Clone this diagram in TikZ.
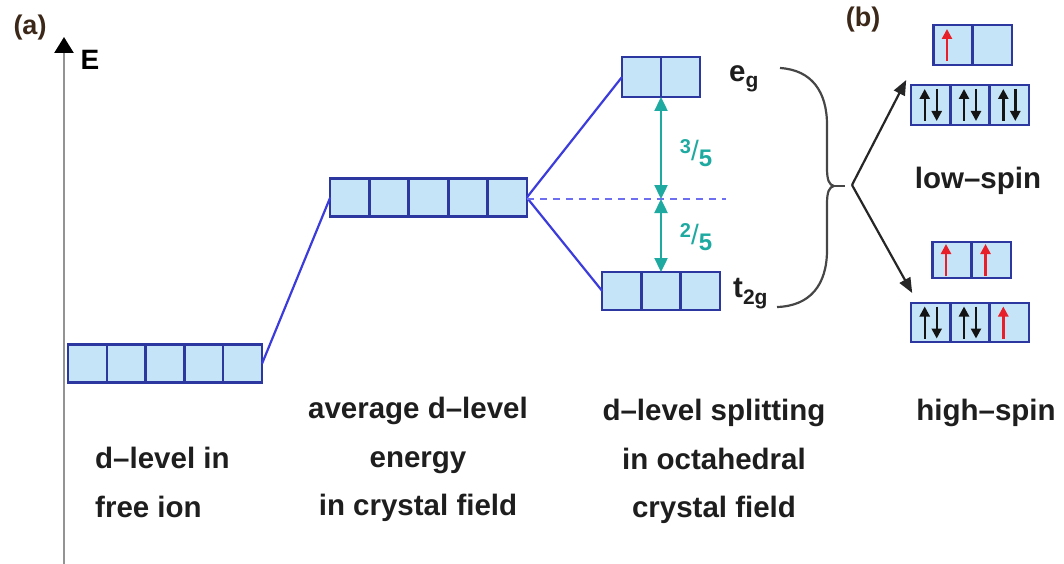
\documentclass[tikz,border=0pt]{standalone}
\usepackage{fontspec}
\setmainfont{Liberation Sans}
\usetikzlibrary{arrows.meta, calc}

\definecolor{cellline}{RGB}{45,55,160}
\definecolor{cellfill}{RGB}{198,228,248}
\definecolor{levelblue}{RGB}{60,60,220}
\definecolor{dashblue}{RGB}{110,110,240}
\definecolor{splitteal}{RGB}{30,170,160}
\definecolor{spinred}{RGB}{232,30,40}
\definecolor{spinblack}{RGB}{20,20,20}
\definecolor{bracegray}{RGB}{70,70,70}
\definecolor{ink}{RGB}{30,30,30}
\definecolor{tagbrown}{RGB}{60,40,25}

% electron arrows inside a cell
\newcommand{\elup}[2][spinblack]{\draw[spin, #1] ($(#2.center)+(-6,16)$) -- ($(#2.center)+(-6,-16)$);}
\newcommand{\eldown}[1]{\draw[spin, spinblack] ($(#1.center)+(6,-16)$) -- ($(#1.center)+(6,16)$);}

\begin{document}
\begin{tikzpicture}[
    x=1pt, y=-1pt,
    cell/.style={rectangle, draw=cellline, fill=cellfill, line width=2.4pt,
                 minimum width=39pt, minimum height=38pt, inner sep=0pt, outer sep=0pt},
    level/.style={draw=levelblue, line width=2.2pt},
    bary/.style={draw=dashblue, line width=2.8pt, dash pattern=on 7pt off 6pt},
    split/.style={draw=splitteal, line width=2.4pt,
                  {Triangle[length=14pt,width=13pt]}-{Triangle[length=14pt,width=13pt]}},
    spin/.style={line width=2.4pt, -{Triangle[length=10pt,width=10pt]}},
    brace/.style={draw=bracegray, line width=2.2pt},
    branch/.style={draw=black!85, line width=2.2pt, -{Triangle[length=15pt,width=12pt]}},
    axis/.style={draw=gray!85, line width=2.6pt, -{Triangle[length=16pt,width=19pt,color=black]}},
    txt/.style={font=\fontsize{29.5}{48.5}\selectfont\bfseries, text=ink, inner sep=0pt},
    tag/.style={font=\fontsize{27}{27}\selectfont\bfseries, text=tagbrown, inner sep=0pt},
    frac/.style={font=\fontsize{24}{24}\selectfont\bfseries, text=splitteal, inner sep=0pt}
]
\useasboundingbox (0,0) rectangle (1064,564);

% energy axis
\coordinate (axbot) at (64,564);
\coordinate (axtop) at (64,37);
\draw[axis] (axbot) -- (axtop);
\node[tag] (taga) at (30,28) {(a)};
\node[font=\fontsize{28}{28}\selectfont\bfseries, text=black, inner sep=0pt] (elbl) at (90,60) {E};

% levels
\foreach \i in {0,...,4} \node[cell] (free\i) at (87.4+38.8*\i, 363.5) {};
\foreach \i in {0,...,4} \node[cell] (avg\i) at (349.7+39.4*\i, 197.5) {};
\foreach \i in {0,1} \node[cell, minimum height=40pt] (eg\i) at (641.5+39*\i, 77) {};
\foreach \i in {0,1,2} \node[cell] (tt\i) at (621.7+39.3*\i, 291) {};

\draw[level] (free4.east) -- (avg0.west);
\draw[level] (avg4.east) -- (eg0.west);
\draw[level] (avg4.east) -- (tt0.west);
\coordinate (baryend) at (726,199);
\coordinate (bary) at (661,199);
\draw[bary] ([yshift=-1.5pt]avg4.east) -- (baryend);
\draw[split] (eg0.south east) -- (bary);
\draw[split] (bary) -- (tt1.north);
\node[frac] (f35) at (696,153) {\raisebox{7pt}{\fontsize{20}{20}\selectfont 3}{\mdseries\fontsize{28}{28}\selectfont/}\raisebox{-6pt}{5}};
\node[frac] (f25) at (696,237) {\raisebox{7pt}{\fontsize{20}{20}\selectfont 2}{\mdseries\fontsize{28}{28}\selectfont/}\raisebox{-6pt}{5}};

\node[txt, anchor=base west] (eglbl) at (729,82) {e\raisebox{-6pt}{\fontsize{21}{21}\selectfont g}};
\node[txt, anchor=base west] (ttlbl) at (733,297) {t\raisebox{-7pt}{\fontsize{21}{21}\selectfont 2g}};

% brace and fork
\coordinate (btip) at (834,186);
\coordinate (fork) at (852,185);
\draw[brace] (780,68) .. controls (812,70) and (827,92) .. (827,125) -- (827,168)
    .. controls (827,180) and (829,185) .. (btip)
    .. controls (829,187) and (827,192) .. (827,204) -- (827,250)
    .. controls (827,285) and (810,306) .. (777,307);
\draw[brace] (btip) -- (845,186);

% low-spin and high-spin fillings
\node[tag] (tagb) at (863,20) {(b)};
\foreach \i in {0,1} \node[cell, minimum height=40pt] (le\i) at (953+39.5*\i, 45) {};
\foreach \i in {0,1,2} \node[cell, minimum height=40pt] (ls\i) at (930.7+39.3*\i, 105) {};
\foreach \i in {0,1} \node[cell, minimum height=36pt] (he\i) at (952+39.5*\i, 260) {};
\foreach \i in {0,1,2} \node[cell, minimum height=39pt] (hs\i) at (930.7+39.3*\i, 322.5) {};

\elup[spinred]{le0}
\foreach \c in {ls0,ls1,ls2} {\elup{\c} \eldown{\c}}
\elup[spinred]{he0}
\elup[spinred]{he1}
\foreach \c in {hs0,hs1} {\elup{\c} \eldown{\c}}
\elup[spinred]{hs2}

\draw[branch] (fork) -- ([shift={(-5,-5)}]ls0.north west);
\draw[branch] (fork) -- ([shift={(1,-10)}]hs0.north west);

% captions
\node[txt, anchor=north] (lslbl) at (978,167) {low--spin};
\node[txt, align=left, anchor=north west] (freelbl) at (95,447) {d--level in\\free ion};
\node[txt, align=center, anchor=north] (avglbl) at (418,397) {average d--level\\energy\\in crystal field};
\node[txt, align=center, anchor=north] (octlbl) at (714,399) {d--level splitting\\in octahedral\\crystal field};
\node[txt, anchor=north] (hslbl) at (986,399) {high--spin};
\end{tikzpicture}
\end{document}
